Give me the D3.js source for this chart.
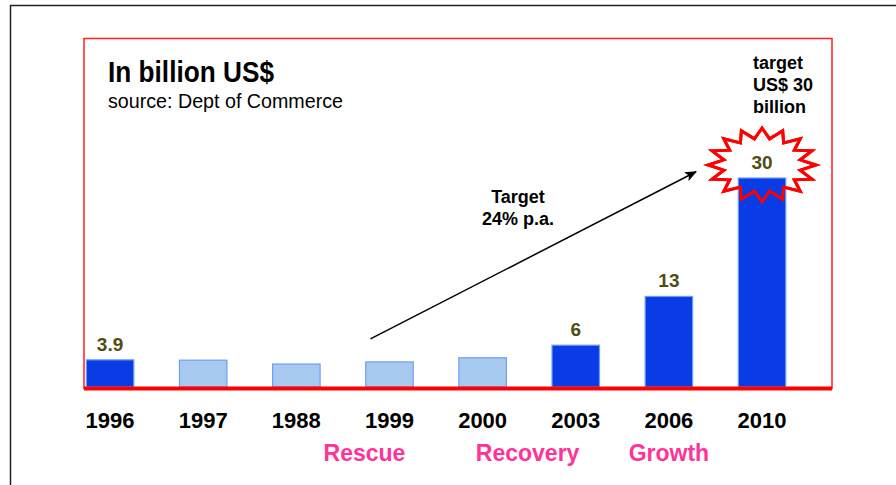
<!DOCTYPE html>
<html>
  <head>
    <meta charset="utf-8">
    <title>In billion US$</title>
    <style>
      body { margin: 0; background: #fff; }
      text { font-family: "Liberation Sans", Arial, sans-serif; }
    </style>
  </head>
  <body>
    <div id="container"></div>
    <script src="https://d3js.org/d3.v7.min.js"></script>
    <script>

      // DATA
      var years = ["1996", "1997", "1988", "1999", "2000", "2003", "2006", "2010"];
      var values = [3.9, 3.85, 3.3, 3.6, 4.2, 6, 13, 30];
      var highlighted = [true, false, false, false, false, true, true, true];
      var valueLabels = ["3.9", "", "", "", "", "6", "13", "30"];
      var phases = ["Rescue", "Recovery", "Growth"];
      var phaseYears = ["1999", "2000", "2006"];
      var phaseOffsets = [-25, 45, 0];
      var targetNote = ["target", "US$ 30", "billion"];
      var arrowNote = ["Target", "24% p.a."];
      var arrowFrom = ["1999", 6.9], arrowTo = ["2010", 30.9];

      // SVG
      var W = 896, H = 485;
      var svg = d3.select("#container").append("svg")
        .attr("width", W).attr("height", H);

      // outer frame lines
      svg.append("line").attr("x1", 10).attr("y1", 5.5).attr("x2", W).attr("y2", 5.5)
        .attr("stroke", "#222").attr("stroke-width", 1.5);
      svg.append("line").attr("x1", 10.5).attr("y1", 5).attr("x2", 10.5).attr("y2", H)
        .attr("stroke", "#222").attr("stroke-width", 1.5);

      // red plot frame
      svg.append("rect").attr("x", 84).attr("y", 38.5).attr("width", 748).attr("height", 350)
        .attr("fill", "none").attr("stroke", "#ff2020").attr("stroke-width", 1.5);

      // SCALES
      var x = d3.scaleBand().domain(years).range([63.5, 808.6])
        .paddingInner(0.49).paddingOuter(0.245);
      var y = d3.scaleLinear().domain([0, 30]).range([387, 178]);

      // titles
      svg.append("text").attr("x", 108).attr("y", 82)
        .style("font-family", "'Liberation Sans Narrow', 'Arial Narrow', sans-serif")
        .attr("font-size", 29).attr("font-weight", "bold")
        .attr("textLength", 166).attr("lengthAdjust", "spacingAndGlyphs")
        .text("In billion US$");
      svg.append("text").attr("x", 108).attr("y", 108)
        .style("font-family", "'Liberation Sans Narrow', 'Arial Narrow', sans-serif")
        .attr("font-size", 21)
        .attr("textLength", 235).attr("lengthAdjust", "spacingAndGlyphs")
        .text("source: Dept of Commerce");

      // starburst behind the last bar
      var last = years.length - 1;
      var cx = x(years[last]) + x.bandwidth() / 2, cy = 165;
      var spikes = 16, pts = [];
      for (var i = 0; i < spikes * 2; i++) {
        var a = Math.PI * i / spikes - Math.PI / 2;
        var r = i % 2 === 0 ? 1 : 0.72;
        pts.push([cx + 54 * r * Math.cos(a), cy + 37 * r * Math.sin(a)]);
      }
      var starPath = "M" + pts.join("L") + "Z";
      svg.append("path").attr("d", starPath).attr("fill", "#fff")
        .attr("stroke", "#ff0000").attr("stroke-width", 3).attr("stroke-linejoin", "miter");

      // BARS
      svg.selectAll(".bar").data(years).enter().append("rect")
        .attr("class", "bar")
        .attr("x", d => x(d))
        .attr("y", (d, i) => y(values[i]))
        .attr("width", x.bandwidth())
        .attr("height", (d, i) => y(0) - y(values[i]))
        .attr("fill", (d, i) => highlighted[i] ? "#0a3ce6" : "#a8c9ef")
        .attr("stroke", "#6f9ef5").attr("stroke-width", 1.2);

      // star outline on top of bar
      svg.append("path").attr("d", starPath).attr("fill", "none")
        .attr("stroke", "#ff0000").attr("stroke-width", 3).attr("stroke-linejoin", "miter");

      // baseline
      svg.append("line").attr("x1", 84).attr("x2", 832).attr("y1", 388.5).attr("y2", 388.5)
        .attr("stroke", "#ff0000").attr("stroke-width", 4);

      // value labels
      svg.selectAll(".val").data(years).enter().append("text")
        .attr("class", "val")
        .attr("x", d => x(d) + x.bandwidth() / 2)
        .attr("y", (d, i) => i === last ? 169 : y(values[i]) - 9)
        .attr("text-anchor", "middle")
        .attr("font-size", 19).attr("font-weight", "bold").attr("fill", "#514c12")
        .text((d, i) => valueLabels[i]);

      // x axis labels
      svg.selectAll(".yr").data(years).enter().append("text")
        .attr("class", "yr")
        .attr("x", d => x(d) + x.bandwidth() / 2)
        .attr("y", 428)
        .attr("text-anchor", "middle")
        .attr("font-size", 22).attr("font-weight", "bold").attr("fill", "#000")
        .text(d => d);

      // phase labels
      svg.selectAll(".phase").data(phases).enter().append("text")
        .attr("class", "phase")
        .attr("x", (d, i) => x(phaseYears[i]) + x.bandwidth() / 2 + phaseOffsets[i])
        .attr("y", 461)
        .attr("text-anchor", "middle")
        .attr("font-size", 23).attr("font-weight", "bold").attr("fill", "#ff3399")
        .text(d => d);

      // target note
      svg.append("text").attr("x", 753).attr("y", 69)
        .attr("font-size", 18).attr("font-weight", "bold")
        .selectAll("tspan").data(targetNote).enter().append("tspan")
        .attr("x", 753).attr("dy", (d, i) => i ? 22 : 0).text(d => d);

      // arrow
      svg.append("defs").append("marker")
        .attr("id", "head").attr("viewBox", "0 0 12 10").attr("refX", 11).attr("refY", 5)
        .attr("markerWidth", 12).attr("markerHeight", 10).attr("markerUnits", "userSpaceOnUse")
        .attr("orient", "auto")
        .append("path").attr("d", "M0,0 L12,5 L0,10 L3,5 Z").attr("fill", "#000");
      svg.append("line")
        .attr("x1", x(arrowFrom[0]) + x.bandwidth() / 2 - 19).attr("y1", y(arrowFrom[1]))
        .attr("x2", x(arrowTo[0]) + x.bandwidth() / 2 - 66).attr("y2", y(arrowTo[1]))
        .attr("stroke", "#000").attr("stroke-width", 1.5)
        .attr("marker-end", "url(#head)");

      svg.append("text").attr("x", 518).attr("y", 203)
        .attr("text-anchor", "middle")
        .attr("font-size", 18).attr("font-weight", "bold")
        .selectAll("tspan").data(arrowNote).enter().append("tspan")
        .attr("x", 518).attr("dy", (d, i) => i ? 22 : 0).text(d => d);

    </script>
  </body>
</html>
